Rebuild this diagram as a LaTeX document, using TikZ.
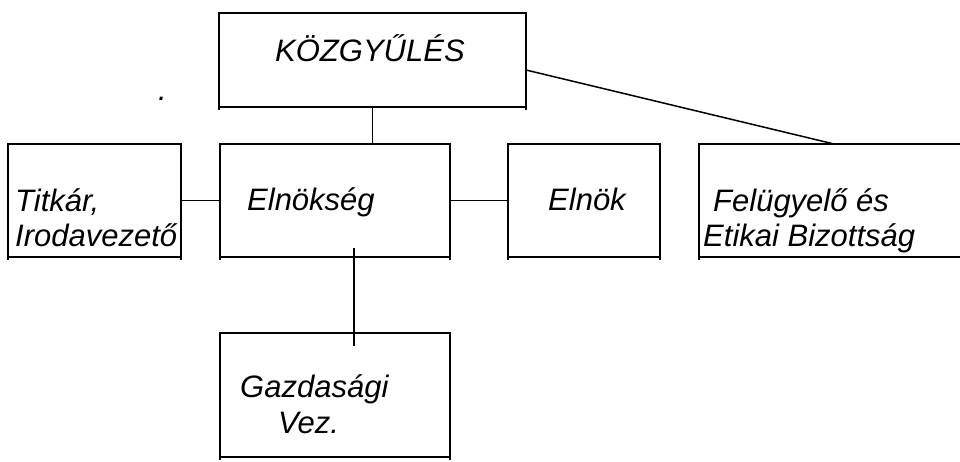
\documentclass[tikz,border=0pt]{standalone}
\usepackage{fontspec}
\setmainfont{Liberation Sans}
\begin{document}
\begin{tikzpicture}[x=1pt,y=-1pt,
  box/.style={draw, line width=1.5pt, rectangle, inner sep=0pt, outer sep=0pt},
  lbl/.style={font=\fontsize{31}{35}\selectfont\itshape, anchor=base west, inner sep=0pt},
  conn/.style={line width=1.5pt},
  tick/.style={line width=1.5pt}]
\clip (0,0) rectangle (960,462);
\fill[white] (0,0) rectangle (960,462);
% boxes
\node[box, minimum width=307pt, minimum height=94pt]  (kozgy)    at (372.5,60)  {};
\node[box, minimum width=173pt, minimum height=113pt] (titkar)   at (94.5,200.5) {};
\node[box, minimum width=230pt, minimum height=113pt] (elnokseg) at (335,200.5) {};
\node[box, minimum width=152pt, minimum height=113pt] (elnok)    at (584,200.5) {};
\node[box, minimum width=281pt, minimum height=113pt] (felugy)   at (839.5,200.5) {};
\node[box, minimum width=230pt, minimum height=124pt] (gazd)     at (335,395) {};
% small overhangs of the side lines
\foreach \b in {kozgy,titkar,elnokseg,elnok,felugy,gazd}{
  \draw[tick] (\b.south west) -- ++(0,3);
  \draw[tick] (\b.south east) -- ++(0,3);
}
% connectors
\draw[conn] (kozgy.south) -- (kozgy.south |- elnokseg.north);
\draw[conn] (titkar.east) -- (elnokseg.west);
\draw[conn] (elnokseg.east) -- (elnok.west);
\draw[conn] ([yshift=-10pt]kozgy.east) -- ([xshift=-5.5pt]felugy.north);
\draw[conn] ([xshift=19pt,yshift=9pt]elnokseg.south) -- ([xshift=19pt,yshift=-13pt]gazd.north);
% texts
\node[lbl] (t1) at (275,62) {KÖZGYŰLÉS};
\node[lbl] (t2) at (15,212) {Titkár,};
\node[lbl] (t3) at (15,247) {Irodavezető};
\node[lbl] (t4) at (247,211) {Elnökség};
\node[lbl] (t5) at (548,211) {Elnök};
\node[lbl] (t6) at (713,212) {Felügyelő és};
\node[lbl] (t7) at (703,247) {Etikai Bizottság};
\node[lbl] (t8) at (240,397) {Gazdasági};
\node[lbl] (t9) at (278,433) {Vez.};
\node[lbl] (dot) at (158,101) {.};
\end{tikzpicture}
\end{document}
